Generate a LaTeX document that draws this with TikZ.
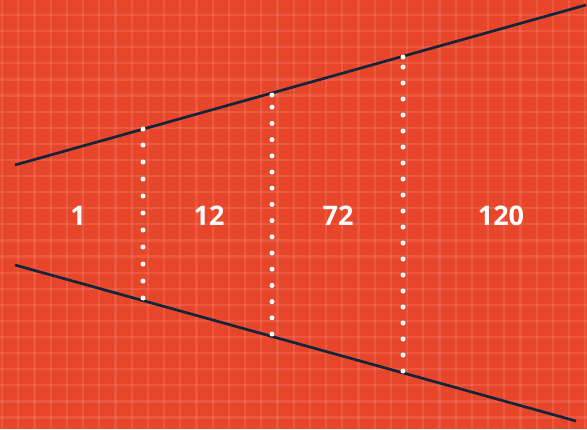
\documentclass[tikz,border=0pt]{standalone}
\usepackage{fontspec}
\setsansfont{Open Sans}
\usetikzlibrary{positioning}
\definecolor{bgred}{HTML}{E8462B}
\definecolor{edgeblue}{HTML}{14243A}

\begin{document}
\begin{tikzpicture}[
  x=1pt, y=-1pt,
  font=\sffamily\bfseries\fontsize{27}{27}\selectfont,
  gridln/.style={draw=white, opacity=0.1, line width=2.2pt},
  edge/.style={draw=edgeblue, line width=2.7pt},
  dots/.style={draw=white, line width=5pt, line cap=round, dash pattern=on 0pt off #1},
  count/.style={text=white, inner sep=0pt}
]
\fill[bgred] (0,0) rectangle (587,429);
\useasboundingbox (0,0) rectangle (587,429);
% grid
\foreach \i in {0,...,36} {
  \draw[gridln] (2+16.2*\i,0) -- (2+16.2*\i,429);
}
\foreach \j in {0,...,26} {
  \draw[gridln] (0,15+16.1*\j) -- (587,15+16.1*\j);
}

% funnel
\coordinate (topL) at (15,165);
\coordinate (topR) at (586,5);
\coordinate (botL) at (15,265);
\coordinate (botR) at (576,421);
\draw[edge] (topL) -- (topR);
\draw[edge] (botL) -- (botR);

% dotted separators, counted up from the lower edge
\coordinate (s1t) at (143,129);
\coordinate (s1b) at (143,298);
\coordinate (s2t) at (272,95);
\coordinate (s2b) at (272,334);
\coordinate (s3t) at (403,57);
\coordinate (s3b) at (403,371);
\draw[dots=17pt] (s1b) -- (s1t);
\draw[dots=16.2pt] (s2b) -- (s2t);
\draw[dots=16pt] (s3b) -- (s3t);
\foreach \c in {s1t,s2t,s3t} {
  \fill[white] (\c) circle (2.5pt);
}

\node[count] (n1)   at (78,216)  {1};
\node[count] (n12)  at (209,216) {12};
\node[count] (n72)  at (338,216) {72};
\node[count] (n120) at (501,216) {120};
\end{tikzpicture}
\end{document}
